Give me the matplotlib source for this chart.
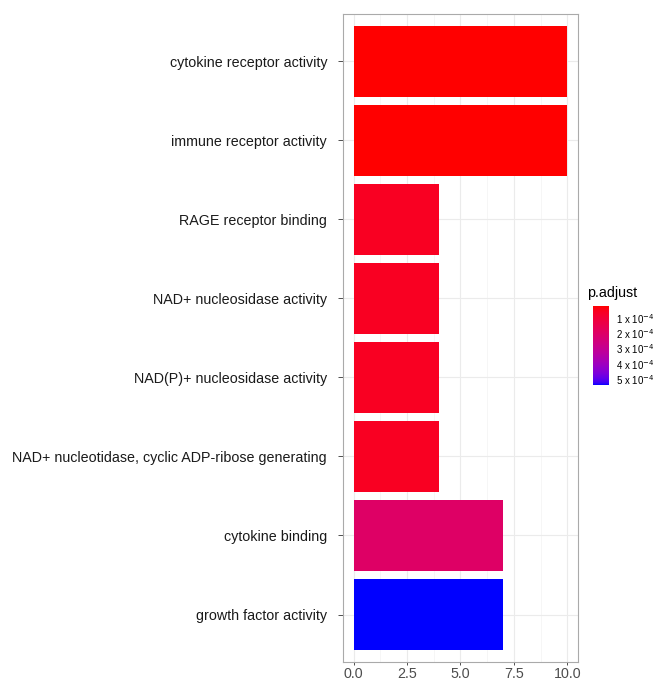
import numpy as np
import matplotlib
matplotlib.use("Agg")
import matplotlib.pyplot as plt
from matplotlib.colors import ListedColormap, Normalize

plt.rcParams['font.family'] = ['Liberation Sans', 'DejaVu Sans']

terms = ['cytokine receptor activity', 'immune receptor activity', 'RAGE receptor binding',
         'NAD+ nucleosidase activity', 'NAD(P)+ nucleosidase activity',
         'NAD+ nucleotidase, cyclic ADP-ribose generating', 'cytokine binding',
         'growth factor activity']
counts = [10, 10, 4, 4, 4, 4, 7, 7]
padj = [2.0e-5, 2.1e-5, 6.0e-5, 6.0e-5, 6.0e-5, 6.0e-5, 2.0e-4, 5.4e-4]
cbar_ticks = [1e-4, 2e-4, 3e-4, 4e-4, 5e-4]
cbar_labels = ['1 x 10$^{-4}$', '2 x 10$^{-4}$', '3 x 10$^{-4}$', '4 x 10$^{-4}$', '5 x 10$^{-4}$']


# red -> blue gradient interpolated in Lab space (like ggplot)
def srgb_to_lab(rgb):
    c = np.asarray(rgb, float)
    c = np.where(c > 0.04045, ((c + 0.055) / 1.055) ** 2.4, c / 12.92)
    M = np.array([[0.4124, 0.3576, 0.1805], [0.2126, 0.7152, 0.0722], [0.0193, 0.1192, 0.9505]])
    xyz = M @ c / np.array([0.95047, 1.0, 1.08883])
    f = np.where(xyz > 0.008856, np.cbrt(xyz), 7.787 * xyz + 16 / 116)
    return np.array([116 * f[1] - 16, 500 * (f[0] - f[1]), 200 * (f[1] - f[2])])


def lab_to_srgb(lab):
    L, a, b = lab
    fy = (L + 16) / 116
    fx = fy + a / 500
    fz = fy - b / 200
    f = np.array([fx, fy, fz])
    xyz = np.where(f ** 3 > 0.008856, f ** 3, (f - 16 / 116) / 7.787) * np.array([0.95047, 1.0, 1.08883])
    Minv = np.array([[3.2406, -1.5372, -0.4986], [-0.9689, 1.8758, 0.0415], [0.0557, -0.2040, 1.0570]])
    c = Minv @ xyz
    c = np.clip(c, 0, 1)
    c = np.where(c > 0.0031308, 1.055 * c ** (1 / 2.4) - 0.055, 12.92 * c)
    return np.clip(c, 0, 1)


lab_r = srgb_to_lab([1, 0, 0])
lab_b = srgb_to_lab([0, 0, 1])
cols = [lab_to_srgb(lab_r + t * (lab_b - lab_r)) for t in np.linspace(0, 1, 256)]
cmap = ListedColormap(cols)
norm = Normalize(vmin=min(padj), vmax=max(padj))

fig = plt.figure(figsize=(6.59, 6.81), dpi=100)
ax = fig.add_axes([0.5205, 0.028, 0.3565, 0.9515])

y = np.arange(len(terms))
ax.barh(y, counts, height=0.9, color=cmap(norm(padj)), zorder=3)
ax.set_ylim(len(terms) - 0.4, -0.6)
ax.set_xlim(-0.5, 10.5)
ax.set_yticks(y)
ax.set_yticklabels(terms, fontsize=10.3, color='#1a1a1a')
ax.set_xticks([0, 2.5, 5, 7.5, 10])
ax.set_xticklabels(['0.0', '2.5', '5.0', '7.5', '10.0'], fontsize=10.3, color='#4d4d4d')
ax.set_xticks([1.25, 3.75, 6.25, 8.75], minor=True)
ax.grid(which='major', color='#ebebeb', linewidth=0.8, zorder=0)
ax.grid(which='minor', axis='x', color='#f5f5f5', linewidth=0.6, zorder=0)
ax.tick_params(axis='y', which='major', length=3.5, color='#333333', width=0.6, pad=8)
ax.tick_params(axis='x', which='major', length=2.5, color='#333333', width=0.6, pad=1.5)
ax.tick_params(axis='x', which='minor', length=0)
for s in ax.spines.values():
    s.set_color('#aaaaaa')
    s.set_linewidth(0.8)

# colorbar legend
cax = fig.add_axes([593 / 659, 1 - 385 / 681, 16 / 659, 79 / 681])
sm = plt.cm.ScalarMappable(norm=norm, cmap=cmap)
cb = fig.colorbar(sm, cax=cax)
cax.invert_yaxis()
cb.set_ticks(cbar_ticks)
cb.set_ticklabels(cbar_labels)
cb.outline.set_visible(False)
cax.tick_params(length=2, color='white', labelsize=7, pad=3, width=0.5)
fig.text(587 / 659, 1 - 293 / 681, 'p.adjust', fontsize=10.3, va='center', ha='left')

fig.savefig('out.png', dpi=100)
